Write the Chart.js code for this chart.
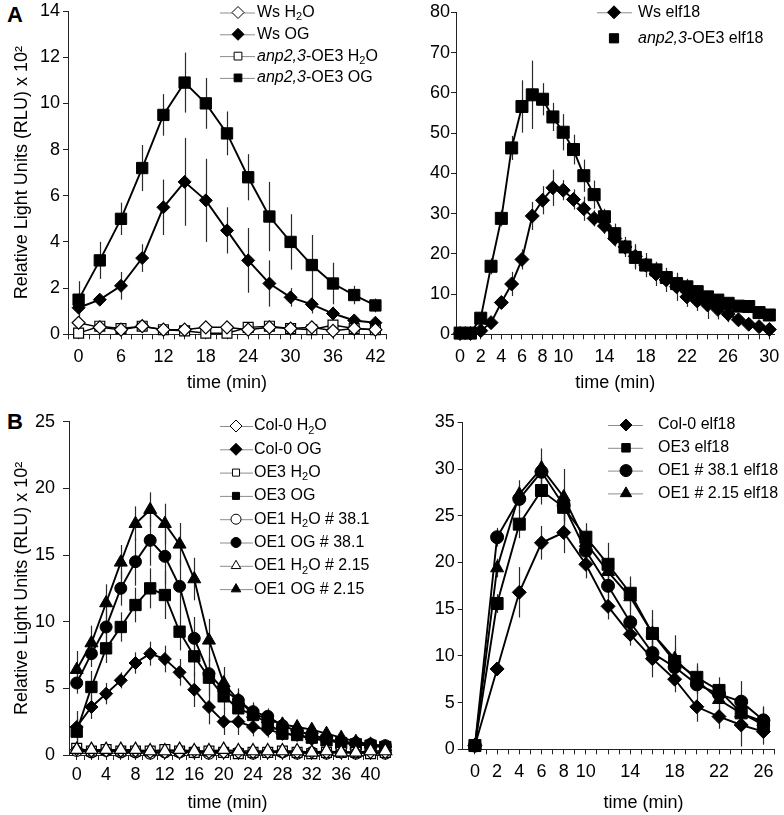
<!DOCTYPE html>
<html>
<head>
<meta charset="utf-8">
<script src="https://cdn.jsdelivr.net/npm/chart.js@4.4.1/dist/chart.umd.min.js"></script>
<style>
  body { margin: 0; background: #fff; width: 784px; height: 815px; position: relative; overflow: hidden; }
  canvas { position: absolute; }
  .tag { position: absolute; font: bold 22px "Liberation Sans", Arial, sans-serif; line-height: 1; }
</style>
</head>
<body>
<div class="tag" style="left:7px;top:4px">A</div>
<div class="tag" style="left:7px;top:411px">B</div>
<canvas id="chart-a1" style="left:0;top:0" width="395" height="400"></canvas>
<canvas id="chart-a2" style="left:395px;top:0" width="389" height="400"></canvas>
<canvas id="chart-b1" style="left:0;top:400px" width="395" height="415"></canvas>
<canvas id="chart-b2" style="left:395px;top:400px" width="389" height="415"></canvas>
<script>
// ---- panel A, left: OG treatment (RLU x 10^2)
const timeA1 = [0, 3, 6, 9, 12, 15, 18, 21, 24, 27, 30, 33, 36, 39, 42];
const wsH2O    = [0.5, 0.3, 0.2, 0.35, 0.2, 0.2, 0.3, 0.3, 0.2, 0.3, 0.25, 0.3, 0.15, 0.25, 0.2];
const wsH2OErr = [0.1, 0.1, 0.1, 0.1, 0.1, 0.1, 0.1, 0.1, 0.1, 0.1, 0.1, 0.1, 0.1, 0.1, 0.1];
const wsOG     = [1.15, 1.5, 2.1, 3.3, 5.5, 6.6, 5.8, 4.5, 3.2, 2.2, 1.6, 1.3, 0.9, 0.6, 0.5];
const wsOGErr  = [0.3, 0.2, 0.6, 0.6, 1.2, 1.9, 1.8, 1.0, 1.4, 1.0, 0.4, 0.4, 0.3, 0.2, 0.2];
const oe3H2O    = [0.05, 0.35, 0.25, 0.35, 0.2, 0.15, 0.05, 0.05, 0.3, 0.35, 0.25, 0.2, 0.4, 0.25, 0.2];
const oe3H2OErr = [0.1, 0.1, 0.1, 0.1, 0.1, 0.1, 0.1, 0.1, 0.1, 0.1, 0.1, 0.1, 0.1, 0.1, 0.1];
const oe3OG     = [1.5, 3.2, 5.0, 7.2, 9.5, 10.9, 10.0, 8.7, 6.8, 5.1, 4.0, 3.0, 2.2, 1.7, 1.25];
const oe3OGErr  = [0.8, 0.8, 0.7, 1.0, 0.9, 1.3, 1.1, 0.95, 1.0, 1.5, 1.2, 1.3, 0.9, 0.4, 0.3];

// ---- panel A, right: elf18 treatment
const timeA2 = [0,1,2,3,4,5,6,7,8,9,10,11,12,13,14,15,16,17,18,19,20,21,22,23,24,25,26,27,28,29,30];
const wsElf    = [0.2, 0.2, 0.9, 2.9, 7.9, 12.5, 18.6, 29.4, 33.3, 36.4, 35.8, 33.5, 31.2, 28.8, 26.9, 23.8, 21.7, 19.4, 17.2, 15.0, 13.5, 11.8, 9.3, 8.3, 7.3, 6.2, 5.0, 3.6, 2.5, 1.9, 1.2];
const wsElfErr = [0.1, 0.1, 0.5, 1, 1.5, 3, 2.5, 3.5, 3.5, 4.5, 2.5, 2.5, 3, 2, 2, 2, 2, 3, 3, 3, 3, 3.5, 2.5, 2.5, 3.5, 2.5, 2, 1.5, 1, 0.8, 0.6];
const oeElf    = [0.3, 0.3, 4.0, 16.9, 28.8, 46.3, 56.6, 59.5, 58.4, 54.0, 50.2, 45.9, 39.4, 34.7, 29.2, 25.0, 21.7, 19.1, 17.2, 16.0, 14.1, 12.6, 11.8, 10.6, 9.3, 8.5, 7.7, 7.0, 6.9, 5.4, 4.8];
const oeElfErr = [0.1, 0.1, 1, 2, 2, 3, 6.5, 8.5, 4, 3.5, 4.5, 3.7, 4, 3.5, 2, 2.5, 2.5, 3, 2, 2, 2, 2, 2, 1.5, 1.5, 1.5, 1.5, 1, 1, 1, 1];

// ---- panel B, left: OG treatment
const timeB1 = [0,2,4,6,8,10,12,14,16,18,20,22,24,26,28,30,32,34,36,38,40,42];
const col0H2O    = [0.4, 0.3, 0.3, 0.3, 0.3, 0.2, 0.2, 0.2, 0.3, 0.2, 0.2, 0.2, 0.2, 0.2, 0.2, 0.2, 0.2, 0.2, 0.2, 0.2, 0.2, 0.2];
const col0OG     = [2.1, 3.6, 4.6, 5.6, 6.9, 7.6, 7.2, 6.2, 4.9, 3.6, 2.5, 2.5, 2.1, 1.9, 1.6, 1.5, 1.2, 1.1, 1.0, 0.8, 0.7, 0.6];
const col0OGErr  = [1.2, 0.9, 0.8, 0.6, 0.8, 0.9, 1.0, 1.0, 1.3, 1.3, 1.0, 1.0, 0.7, 0.6, 0.5, 0.4, 0.4, 0.3, 0.3, 0.3, 0.2, 0.2];
const oe3H2OB    = [0.5, 0.3, 0.4, 0.3, 0.3, 0.3, 0.4, 0.3, 0.2, 0.3, 0.2, 0.1, 0.2, 0.2, 0.3, 0.2, 0.1, 0.2, 0.2, 0.2, 0.1, 0.2];
const oe3OGB     = [1.75, 5.1, 8.0, 9.6, 11.25, 12.5, 12.0, 9.25, 7.4, 5.8, 4.4, 3.5, 3.0, 2.4, 1.6, 1.5, 1.3, 1.1, 0.9, 0.8, 0.7, 0.6];
const oe3OGBErr  = [1.0, 1.2, 1.1, 1.1, 1.3, 1.5, 1.8, 1.4, 1.5, 1.4, 1.0, 0.9, 0.7, 0.6, 0.5, 0.4, 0.4, 0.3, 0.3, 0.3, 0.2, 0.2];
const oe1H2O381  = [0.3, 0.2, 0.3, 0.2, 0.2, 0.1, 0.2, 0.2, 0.2, 0.1, 0.2, 0.2, 0.1, 0.2, 0.2, 0.1, 0.2, 0.1, 0.2, 0.1, 0.2, 0.1];
const oe1OG381   = [5.4, 7.6, 9.6, 12.5, 14.5, 16.1, 14.9, 12.65, 8.75, 6.1, 4.9, 4.1, 3.25, 2.9, 2.2, 1.8, 1.5, 1.2, 1.0, 0.9, 0.8, 0.7];
const oe1OG381Err= [0.8, 1.0, 1.3, 1.3, 1.8, 1.9, 2.1, 2.0, 1.6, 1.2, 1.0, 0.8, 0.7, 0.6, 0.5, 0.4, 0.4, 0.3, 0.3, 0.3, 0.2, 0.2];
const oe1H2O215  = [0.4, 0.4, 0.4, 0.4, 0.4, 0.3, 0.3, 0.4, 0.3, 0.3, 0.4, 0.3, 0.3, 0.3, 0.3, 0.3, 0.2, 0.3, 0.2, 0.2, 0.3, 0.3];
const oe1OG215   = [6.4, 8.4, 11.4, 14.45, 17.35, 18.4, 17.35, 15.8, 13.2, 8.6, 5.4, 4.1, 3.1, 2.7, 2.3, 2.1, 1.9, 1.6, 1.3, 1.0, 0.8, 0.6];
const oe1OG215Err= [1.4, 1.3, 1.4, 1.3, 1.3, 1.3, 1.5, 1.6, 1.6, 1.6, 1.2, 0.9, 0.7, 0.6, 0.5, 0.4, 0.4, 0.3, 0.3, 0.3, 0.2, 0.2];

// ---- panel B, right: elf18 treatment
const timeB2 = [0,2,4,6,8,10,12,14,16,18,20,22,24,26];
const col0Elf     = [0.4, 8.6, 16.8, 22.1, 23.2, 19.8, 15.3, 12.3, 9.7, 7.5, 4.55, 3.5, 2.6, 1.9];
const col0ElfErr  = [0.1, 0.5, 2.7, 1.8, 2.2, 1.5, 1.4, 1.2, 2.0, 1.4, 1.6, 1.3, 2.3, 1.4];
const oe3Elf      = [0.4, 15.6, 24.1, 27.7, 25.9, 22.7, 19.8, 16.7, 12.4, 9.4, 7.7, 6.3, 3.9, 2.6];
const oe3ElfErr   = [0.1, 1.0, 1.5, 1.5, 1.5, 1.5, 2.3, 1.8, 2.5, 1.5, 1.5, 1.4, 1.5, 1.2];
const oe1Elf381   = [0.4, 22.7, 26.8, 29.7, 26.1, 21.25, 17.5, 13.6, 10.3, 8.8, 6.95, 5.9, 5.1, 3.1];
const oe1Elf381Err= [0.1, 1.0, 1.5, 1.5, 1.5, 1.3, 1.3, 1.2, 1.3, 1.0, 1.0, 1.0, 2.2, 1.5];
const oe1Elf215   = [0.4, 19.4, 27.3, 30.1, 27.0, 22.1, 19.0, 16.3, 12.4, 9.7, 7.4, 5.3, 3.85, 2.95];
const oe1Elf215Err= [0.1, 1.0, 1.5, 2.1, 3.0, 1.5, 1.5, 1.5, 1.5, 2.5, 1.5, 1.2, 1.2, 1.5];

// tick labels shown on the x axes
const labelsA1 = [0, 6, 12, 18, 24, 30, 36, 42];
const labelsA2 = [0, 2, 4, 6, 8, 10, 14, 18, 22, 26, 30];
const labelsB1 = [0, 4, 8, 12, 16, 20, 24, 28, 32, 36, 40];
const labelsB2 = [0, 2, 4, 6, 8, 10, 14, 18, 22, 26];

const FAM = '"Liberation Sans", Arial, sans-serif';
const yTitle = 'Relative Light Units (RLU) x 10²';

function steps(a, b, s) {
  const out = [];
  for (let v = a; v <= b + 1e-9; v += s) out.push(Math.round(v * 100) / 100);
  return out;
}

function series(label, times, vals, errs, style) {
  return Object.assign({
    label: label,
    data: times.map((t, i) => ({ x: t, y: vals[i] })),
    errors: errs,
    borderColor: '#000',
    borderWidth: 1.9,
    pointBorderColor: '#000',
    pointBorderWidth: 1,
    tension: 0,
    clip: false,
    fill: false
  }, style);
}
const filled = (shape, r, kr) => ({ pointStyle: shape, pointRadius: r, pointBackgroundColor: '#000', keyRadius: kr, keyFill: '#000' });
const hollow = (shape, r, kr) => ({ pointStyle: shape, pointRadius: r, pointBackgroundColor: '#fff', pointBorderWidth: 1.2, borderWidth: 1.5, keyRadius: kr, keyFill: '#fff' });

// error bars drawn under the markers
const errorBars = {
  id: 'errorBars',
  beforeDatasetsDraw(chart) {
    const { ctx, scales: { x, y } } = chart;
    ctx.save();
    ctx.strokeStyle = '#2a2a2a';
    ctx.lineWidth = 1.2;
    chart.data.datasets.forEach(ds => {
      if (!ds.errors) return;
      ds.data.forEach((p, i) => {
        const e = ds.errors[i];
        if (!e) return;
        const px = Math.round(x.getPixelForValue(p.x)) + 0.5;
        ctx.beginPath();
        ctx.moveTo(px, y.getPixelForValue(p.y + e));
        ctx.lineTo(px, y.getPixelForValue(Math.max(0, p.y - e)));
        ctx.stroke();
      });
    });
    ctx.restore();
  }
};

function drawRich(ctx, text, x, y, size) {
  const parts = [];
  const m = text.match(/^(anp2,3)(.*)$/);
  if (m) { parts.push({ t: m[1], it: true }); text = m[2]; }
  text.split('₂').forEach((s, i, arr) => {
    parts.push({ t: s });
    if (i < arr.length - 1) parts.push({ t: '2', sub: true });
  });
  ctx.textBaseline = 'middle';
  ctx.textAlign = 'left';
  ctx.fillStyle = '#000';
  parts.forEach(p => {
    const sz = p.sub ? Math.round(size * 0.68) : size;
    ctx.font = (p.it ? 'italic ' : '') + sz + 'px ' + FAM;
    ctx.fillText(p.t, x, y + (p.sub ? size * 0.3 : 0));
    x += ctx.measureText(p.t).width;
  });
}

// legend: short grey line, marker, label
const keyBox = {
  id: 'keyBox',
  afterDraw(chart, args, o) {
    const ctx = chart.ctx;
    ctx.save();
    chart.data.datasets.forEach((ds, i) => {
      const y = o.y0 + i * o.gap;
      if (ds.keyLine !== false) {
        ctx.strokeStyle = '#8c8c8c';
        ctx.lineWidth = 1;
        ctx.beginPath();
        ctx.moveTo(o.x1, y + 0.5);
        ctx.lineTo(o.x2, y + 0.5);
        ctx.stroke();
      }
      ctx.fillStyle = ds.keyFill;
      ctx.strokeStyle = '#000';
      ctx.lineWidth = 1;
      Chart.helpers.drawPoint(ctx, { pointStyle: ds.pointStyle, radius: ds.keyRadius, borderWidth: 1, rotation: 0 }, o.mx, y);
      drawRich(ctx, ds.label, o.tx, y, o.size);
    });
    ctx.restore();
  }
};

function panel(id, p, datasets) {
  const b = p.box;
  const yW = p.axisX - b.x;
  const pad = {
    left: 0,
    top: p.topY - b.y,
    right: b.w - (p.rightX - b.x),
    bottom: b.h - (p.bottomY - b.y) - p.xH
  };
  return new Chart(document.getElementById(id).getContext('2d'), {
    type: 'line',
    data: { datasets: datasets },
    options: {
      responsive: false,
      animation: false,
      layout: { padding: pad },
      plugins: {
        legend: { display: false },
        tooltip: { enabled: false },
        keyBox: {
          x1: p.key.x1 - b.x, x2: p.key.x2 - b.x, mx: p.key.mx - b.x, tx: p.key.tx - b.x,
          y0: p.key.y0 - b.y, gap: p.key.gap, size: 16
        }
      },
      scales: {
        x: {
          type: 'linear',
          min: p.xMin,
          max: p.xMax,
          afterBuildTicks: s => { s.ticks = p.xTicks.map(v => ({ value: v })); },
          afterFit: s => { s.height = p.xH; s.paddingLeft = 0; s.paddingRight = 0; },
          ticks: {
            autoSkip: false, maxRotation: 0, padding: p.xPad, color: '#000',
            font: { family: FAM, size: 18 },
            callback: v => p.xLabels.includes(v) ? String(v) : ''
          },
          grid: { drawOnChartArea: false, drawTicks: true, tickLength: 5, color: '#222' },
          border: { color: '#222', width: 1 },
          title: { display: true, text: p.xTitle, color: '#000', font: { family: FAM, size: 18 }, padding: 0 }
        },
        y: {
          min: 0,
          max: p.yMax,
          afterFit: s => { s.width = yW; s.paddingTop = 0; s.paddingBottom = 0; },
          ticks: { stepSize: p.yStep, padding: p.yPad, color: '#000', font: { family: FAM, size: 18 } },
          grid: { drawOnChartArea: false, drawTicks: true, tickLength: p.yTick, color: '#222' },
          border: { color: '#222', width: 1 },
          title: { display: p.yTitle, text: yTitle, color: '#000', font: { family: FAM, size: 18 }, padding: { top: 11, bottom: 0 } }
        }
      }
    },
    plugins: [errorBars, keyBox]
  });
}

panel('chart-a1', {
  box: { x: 0, y: 0, w: 395, h: 400 },
  axisX: 68, topY: 11, bottomY: 334.3, rightX: 389, xH: 59.5,
  xMin: -1.5, xMax: 43.5, xTicks: steps(-1.5, 43.5, 1.5), xLabels: labelsA1, xPad: 6.5,
  xTitle: 'time (min)',
  yMax: 14, yStep: 2, yTick: 5, yPad: 3, yTitle: true,
  key: { x1: 220, x2: 255, mx: 238, tx: 257, y0: 12.5, gap: 21.8 }
}, [
  series('Ws H₂O', timeA1, wsH2O, wsH2OErr, hollow('rectRot', 6.5, 6)),
  series('Ws OG', timeA1, wsOG, wsOGErr, filled('rectRot', 6.5, 6)),
  series('anp2,3-OE3 H₂O', timeA1, oe3H2O, oe3H2OErr, hollow('rect', 7, 5.5)),
  series('anp2,3-OE3 OG', timeA1, oe3OG, oe3OGErr, filled('rect', 8, 5.5))
]);

panel('chart-a2', {
  box: { x: 395, y: 0, w: 389, h: 400 },
  axisX: 456, topY: 12.3, bottomY: 334.3, rightX: 775, xH: 59.5,
  xMin: -0.4, xMax: 30.5, xTicks: steps(0, 30, 1), xLabels: labelsA2, xPad: 6.5,
  xTitle: 'time (min)',
  yMax: 80, yStep: 10, yTick: 5, yPad: 1, yTitle: false,
  key: { x1: 597, x2: 632, mx: 614, tx: 638, y0: 12.3, gap: 26 }
}, [
  series('Ws elf18', timeA2, wsElf, wsElfErr, filled('rectRot', 7, 6.5)),
  series('anp2,3-OE3 elf18', timeA2, oeElf, oeElfErr, Object.assign(filled('rect', 8.5, 6.5), { keyLine: false }))
]);

panel('chart-b1', {
  box: { x: 0, y: 400, w: 395, h: 415 },
  axisX: 69, topY: 421.7, bottomY: 755, rightX: 386, xH: 58.8,
  xMin: -1.05, xMax: 42.1, xTicks: steps(0, 42, 1), xLabels: labelsB1, xPad: 4.2,
  xTitle: 'time (min)',
  yMax: 25, yStep: 5, yTick: 6, yPad: 8, yTitle: true,
  key: { x1: 220, x2: 253, mx: 236, tx: 254, y0: 426, gap: 23.3 }
}, [
  series('Col-0 H₂O', timeB1, col0H2O, null, hollow('rectRot', 6, 6)),
  series('Col-0 OG', timeB1, col0OG, col0OGErr, filled('rectRot', 6.5, 6)),
  series('OE3 H₂O', timeB1, oe3H2OB, null, hollow('rect', 7, 5)),
  series('OE3 OG', timeB1, oe3OGB, oe3OGBErr, filled('rect', 8, 5)),
  series('OE1 H₂O # 38.1', timeB1, oe1H2O381, null, hollow('circle', 5.5, 5)),
  series('OE1 OG # 38.1', timeB1, oe1OG381, oe1OG381Err, filled('circle', 6, 5)),
  series('OE1 H₂O # 2.15', timeB1, oe1H2O215, null, Object.assign(hollow('triangle', 7.5, 5.5), { order: -1 })),
  series('OE1 OG # 2.15', timeB1, oe1OG215, oe1OG215Err, filled('triangle', 7.5, 5.5))
]);

// the x title of this panel sits right of the plot centre in the original
panel('chart-b2', {
  box: { x: 395, y: 400, w: 389, h: 415 },
  axisX: 462.7, topY: 422.3, bottomY: 749.3, rightX: 781.7, xH: 64.5,
  xMin: -1.1, xMax: 27, xTicks: steps(0, 27, 1), xLabels: labelsB2, xPad: 6.6,
  xTitle: '          time (min)',
  yMax: 35, yStep: 5, yTick: 5, yPad: 3, yTitle: false,
  key: { x1: 608, x2: 643, mx: 626, tx: 658, y0: 425, gap: 22.8 }
}, [
  series('Col-0 elf18', timeB2, col0Elf, col0ElfErr, filled('rectRot', 7, 6)),
  series('OE3 elf18', timeB2, oe3Elf, oe3ElfErr, filled('rect', 8.5, 6)),
  series('OE1 # 38.1 elf18', timeB2, oe1Elf381, oe1Elf381Err, filled('circle', 6.5, 6)),
  series('OE1 # 2.15 elf18', timeB2, oe1Elf215, oe1Elf215Err, filled('triangle', 7.5, 6.5))
]);
</script>
</body>
</html>
